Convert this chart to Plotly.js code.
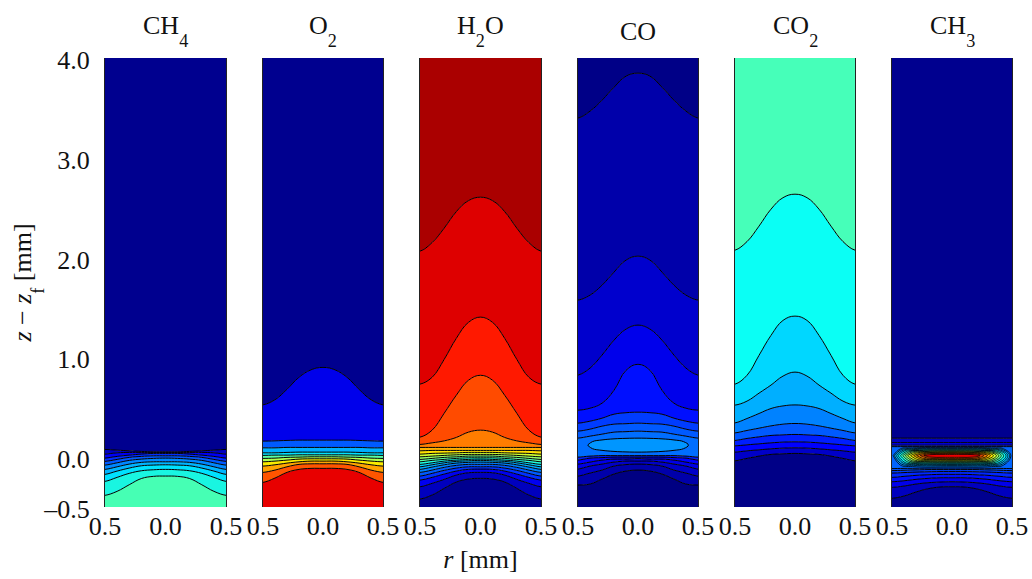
<!DOCTYPE html>
<html><head><meta charset="utf-8">
<script src="https://cdn.plot.ly/plotly-3.0.1.min.js"></script>
<style>html,body{margin:0;padding:0;background:#fff;overflow:hidden}#chart{width:1032px;height:579px}</style>
</head><body><div id="chart"></div>
<script>
// radial stations (mm) at which every contour height was read; mirrored about r = 0
const rHalf = [0, 0.1, 0.2, 0.3, 0.4, 0.5];
const speciesNames = ['CH<sub>4</sub>', 'O<sub>2</sub>', 'H<sub>2</sub>O', 'CO', 'CO<sub>2</sub>', 'CH<sub>3</sub>'];
const rTickVals = [-0.5, 0, 0.5];
const rTickText = ['0.5', '0.0', '0.5'];
const zTickVals = [-0.5, 0, 1, 2, 3, 4];
const zTickText = ['–0.5', '0.0', '1.0', '2.0', '3.0', '4.0'];

// contour heights z - zf (mm), lowest contour first
const ch4Curves = [
 [-.19,-.193,-.215,-.277,-.343,-.383],
 [-.123,-.127,-.137,-.163,-.203,-.243],
 [-.077,-.08,-.087,-.11,-.14,-.173],
 [-.047,-.047,-.053,-.07,-.097,-.123],
 [-.01,-.013,-.02,-.033,-.057,-.08],
 [.013,.013,.007,-.003,-.023,-.043],
 [.037,.037,.03,.02,.007,-.01],
 [.047,.047,.047,.047,.043,.03],
 [.053,.053,.057,.063,.07,.077]];
const ch4Colors = ['rgb(70,255,180)','rgb(25,245,225)','rgb(0,225,255)','rgb(0,180,255)','rgb(0,135,255)','rgb(0,90,255)','rgb(0,45,255)','rgb(0,0,245)','rgb(0,0,195)','rgb(0,0,143)'];

const o2Curves = [
 [-.113,-.113,-.123,-.153,-.21,-.253],
 [-.067,-.067,-.073,-.097,-.13,-.153],
 [-.04,-.04,-.047,-.06,-.077,-.09],
 [-.017,-.017,-.02,-.03,-.04,-.047],
 [.003,.003,0,-.003,-.01,-.013],
 [.023,.023,.023,.02,.02,.017],
 [.05,.05,.05,.047,.043,.043],
 [.097,.097,.097,.097,.093,.093],
 [.17,.17,.17,.167,.163,.16],
 [.899,.875,.80,.68,.575,.524]];
const o2Colors = ['rgb(232,0,0)','rgb(255,85,0)','rgb(255,165,0)','rgb(250,235,0)','rgb(175,255,80)','rgb(90,255,165)','rgb(0,225,255)','rgb(0,175,255)','rgb(0,90,255)','rgb(0,0,235)','rgb(0,0,143)'];

const h2oCurves = [
 [-.213,-.22,-.25,-.313,-.38,-.42],
 [-.153,-.157,-.18,-.223,-.263,-.297],
 [-.12,-.123,-.14,-.17,-.203,-.23],
 [-.097,-.097,-.11,-.133,-.163,-.19],
 [-.073,-.073,-.083,-.103,-.13,-.153],
 [-.05,-.053,-.06,-.077,-.10,-.123],
 [-.033,-.037,-.043,-.057,-.077,-.097],
 [-.02,-.023,-.03,-.04,-.057,-.073],
 [-.007,-.007,-.013,-.023,-.033,-.047],
 [.01,.01,.003,-.003,-.013,-.023],
 [.027,.027,.023,.017,.01,.003],
 [.047,.047,.043,.04,.037,.03],
 [.067,.067,.067,.067,.067,.063],
 [.097,.097,.097,.097,.097,.097],
 [.27,.25,.197,.163,.143,.127],
 [.82,.77,.62,.44,.27,.20],
 [1.403,1.35,1.19,.98,.80,.731],
 [2.605,2.57,2.46,2.295,2.15,2.064]];
const h2oColors = ['rgb(0,0,143)','rgb(0,0,190)','rgb(0,0,240)','rgb(0,50,255)','rgb(0,90,255)','rgb(0,130,255)','rgb(0,170,255)','rgb(0,210,255)','rgb(30,255,225)','rgb(90,255,165)','rgb(150,255,105)','rgb(210,255,45)','rgb(255,225,0)','rgb(255,175,0)','rgb(255,125,0)','rgb(255,75,0)','rgb(255,25,0)','rgb(222,0,0)','rgb(170,0,0)'];

const coCurves = [
 [-.13,-.14,-.17,-.22,-.27,-.28],
 [-.07,-.075,-.09,-.13,-.16,-.19],
 [-.04,-.04,-.05,-.07,-.09,-.12],
 [-.015,-.02,-.02,-.03,-.05,-.07],
 [0,0,0,-.005,-.01,-.03],
 [.015,.015,.015,.015,.01,0],
 [.26,.255,.25,.23,.21,.19],
 [.34,.335,.33,.31,.28,.26],
 [.45,.445,.43,.39,.36,.34],
 [.93,.87,.67,.54,.49,.47],
 [1.323,1.283,1.172,1.022,.892,.822],
 [2.014,1.974,1.854,1.723,1.623,1.573],
 [3.848,3.818,3.707,3.577,3.467,3.397]];
const coColors = ['rgb(0,0,130)','rgb(0,0,170)','rgb(0,0,200)','rgb(0,0,230)','rgb(0,0,255)','rgb(0,30,255)','rgb(0,110,255)','rgb(0,90,255)','rgb(0,60,255)','rgb(0,15,255)','rgb(0,0,235)','rgb(0,0,205)','rgb(0,0,170)','rgb(0,0,135)'];
// the one closed CO contour: half outline
const coOvalR = [0, .1, .2, .3, .38, .42];
const coOvalTop = [.19, .188, .183, .172, .155, .12];
const coOvalBot = [.05, .052, .057, .068, .085, .12];
const coOvalColor = 'rgb(0,150,255)';

const co2Curves = [
 [.037,.033,.027,.01,-.013,-.037],
 [.093,.09,.083,.073,.063,.05],
 [.153,.15,.143,.133,.123,.113],
 [.227,.223,.217,.203,.187,.167],
 [.337,.33,.313,.29,.267,.243],
 [.523,.513,.487,.437,.387,.343],
 [.852,.812,.722,.641,.561,.521],
 [1.413,1.37,1.22,1.02,.82,.731],
 [2.635,2.60,2.485,2.315,2.16,2.074]];
const co2Colors = ['rgb(0,0,135)','rgb(0,0,200)','rgb(0,0,255)','rgb(0,30,255)','rgb(0,90,255)','rgb(0,130,255)','rgb(0,175,255)','rgb(0,215,255)','rgb(10,255,245)','rgb(70,255,185)'];

const ch3Curves = [
 [-.297,-.30,-.317,-.35,-.39,-.413],
 [-.247,-.25,-.257,-.27,-.29,-.303],
 [-.207,-.207,-.213,-.223,-.237,-.247],
 [-.173,-.173,-.177,-.183,-.193,-.203],
 [-.145,-.145,-.147,-.15,-.155,-.16],
 [-.125,-.125,-.125,-.128,-.132,-.135],
 [-.11,-.11,-.11,-.112,-.113,-.115],
 [.105,.105,.105,.105,.105,.105],
 [.12,.12,.12,.12,.12,.12],
 [.145,.145,.145,.145,.145,.145],
 [.19,.19,.19,.19,.19,.19]];
const ch3Colors = ['rgb(0,0,143)','rgb(0,0,190)','rgb(0,0,235)','rgb(0,15,255)','rgb(0,40,255)','rgb(0,60,255)','rgb(0,80,255)','rgb(0,100,255)','rgb(0,40,255)','rgb(0,0,240)','rgb(0,0,190)','rgb(0,0,143)'];
// nested closed CH3 contours around the reaction ridge, outermost first
const ch3OvalR = [[0,.33,.43,.49],[0,.32,.42,.48],[0,.305,.405,.465],[0,.29,.39,.45],[0,.27,.37,.43],[0,.25,.35,.41],[0,.23,.33,.39],[0,.21,.31,.37],[0,.185,.285,.345],[0,.16,.26,.32],[0,.135,.235,.295],[0,.105,.205,.265],[0,.075,.175,.235]];
const ch3OvalTop = [[.095,.093,.083,.015],[.087,.085,.076,.015],[.079,.077,.07,.015],[.073,.071,.065,.015],[.068,.066,.06,.015],[.063,.061,.056,.015],[.058,.056,.052,.015],[.053,.051,.048,.015],[.049,.047,.044,.015],[.044,.042,.04,.015],[.039,.037,.036,.015],[.034,.033,.031,.015],[.027,.027,.025,.015]];
const ch3OvalBot = [[-.097,-.095,-.08,.015],[-.085,-.083,-.07,.015],[-.075,-.073,-.062,.015],[-.067,-.065,-.055,.015],[-.059,-.057,-.048,.015],[-.052,-.05,-.042,.015],[-.046,-.044,-.037,.015],[-.039,-.037,-.031,.015],[-.032,-.03,-.025,.015],[-.025,-.023,-.019,.015],[-.019,-.017,-.014,.015],[-.012,-.011,-.008,.015],[-.002,-.002,0,.015]];
const ch3OvalColors = ['rgb(0,140,255)','rgb(0,175,255)','rgb(0,210,255)','rgb(10,245,240)','rgb(60,255,195)','rgb(110,255,145)','rgb(165,255,90)','rgb(215,255,40)','rgb(255,225,0)','rgb(255,180,0)','rgb(255,130,0)','rgb(255,80,0)','rgb(235,0,0)'];

const panelCurves = [ch4Curves, o2Curves, h2oCurves, coCurves, co2Curves, ch3Curves];
const panelColors = [ch4Colors, o2Colors, h2oColors, coColors, co2Colors, ch3Colors];

// layout (pixels in the 1032x579 page)
const W = 1032, H = 579;
const panelPx = [[105,226],[263,383],[420,541],[578,698],[735,855],[892,1012]];
const plotTop = 58, plotBottom = 507;
const titleY = [27, 27, 27, 31, 27, 27];
const serif = '"Liberation Serif", serif';
const fontSize = 26;
const ink = '#111';
const lineStyle = {color: '#000', width: 1, shape: 'spline', smoothing: 1.2};
const ovalLine = {color: '#000', width: 0.8, shape: 'spline', smoothing: 1.2};
const noLine = {width: 0, shape: 'spline', color: 'rgba(0,0,0,0)'};

// a station just outside the panel keeps each curve level where it meets the wall (clipped by the axis)
const wallR = 0.56;
const rFull = [-wallR].concat(rHalf.slice(1).reverse().map(v => -v), rHalf, [wallR]);
const mirror = row => [row[row.length - 1]].concat(row.slice(1).reverse(), row, [row[row.length - 1]]);

function closedOval(rs, top, bot) {
  const n = rs.length - 1;
  const xs = [], ys = [];
  for (let i = n; i >= 0; i--) { xs.push(-rs[i]); ys.push(top[i]); }
  for (let i = 1; i <= n; i++) { xs.push(rs[i]); ys.push(top[i]); }
  for (let i = n - 1; i >= 0; i--) { xs.push(rs[i]); ys.push(bot[i]); }
  for (let i = 1; i <= n; i++) { xs.push(-rs[i]); ys.push(bot[i]); }
  return {xs, ys};
}

const traces = [];
const layout = {
  width: W, height: H, margin: {l: 0, r: 0, t: 0, b: 0},
  paper_bgcolor: '#fff', plot_bgcolor: '#fff', showlegend: false, hovermode: false,
  font: {family: serif, color: ink, size: fontSize}, annotations: []
};

panelPx.forEach((px, p) => {
  const sfx = p === 0 ? '' : String(p + 1);
  const xa = 'x' + sfx, ya = 'y' + sfx;
  const base = {x: rFull, mode: 'lines', xaxis: xa, yaxis: ya, hoverinfo: 'skip'};
  traces.push(Object.assign({}, base, {y: rFull.map(() => -0.5), line: noLine}));
  const curves = panelCurves[p], colors = panelColors[p];
  curves.forEach((c, k) => {
    traces.push(Object.assign({}, base, {y: mirror(c), line: lineStyle, fill: 'tonexty', fillcolor: colors[k]}));
  });
  traces.push(Object.assign({}, base, {y: rFull.map(() => 4), line: noLine, fill: 'tonexty', fillcolor: colors[curves.length]}));

  const xAxis = {
    domain: [px[0] / W, px[1] / W], range: [-0.5, 0.5], fixedrange: true,
    showgrid: false, zeroline: false, showline: false,
    tickmode: 'array', tickvals: rTickVals, ticktext: rTickText,
    ticks: '', tickangle: 0, ticklabelstandoff: 1,
    tickfont: {family: serif, size: fontSize, color: ink}, anchor: ya
  };
  if (p === 2) {
    xAxis.title = {text: '<i>r</i> [mm]', font: {family: serif, size: fontSize, color: ink}, standoff: 9};
  }
  const yAxis = {
    domain: [1 - plotBottom / H, 1 - plotTop / H], range: [-0.5, 4], fixedrange: true,
    showgrid: false, zeroline: false, showline: true, mirror: true, linecolor: '#222', linewidth: 1,
    tickmode: 'array', tickvals: zTickVals, ticktext: zTickText,
    ticks: p === 0 ? 'outside' : '', ticklen: 9, tickcolor: 'rgba(0,0,0,0)', ticklabelshift: 2,
    showticklabels: p === 0, tickfont: {family: serif, size: fontSize, color: ink}, anchor: xa
  };
  if (p === 0) {
    yAxis.title = {text: '<i>z</i> − <i>z</i><sub>f</sub> [mm]', font: {family: serif, size: fontSize, color: ink}, standoff: 4};
  }
  layout['xaxis' + sfx] = xAxis;
  layout['yaxis' + sfx] = yAxis;

  layout.annotations.push({
    xref: 'paper', yref: 'paper', x: (px[0] + px[1]) / 2 / W, y: 1 - titleY[p] / H,
    text: speciesNames[p], showarrow: false, xanchor: 'center', yanchor: 'middle',
    font: {family: serif, size: fontSize, color: ink}
  });
});

// closed contours drawn above the bands
function addOval(sfx, oval, color, line) {
  traces.push({x: oval.xs.concat(oval.xs[0]), y: oval.ys.concat(oval.ys[0]), mode: 'lines',
    xaxis: 'x' + sfx, yaxis: 'y' + sfx, hoverinfo: 'skip', fill: 'toself', fillcolor: color, line: line});
}
addOval('4', closedOval(coOvalR, coOvalTop, coOvalBot), coOvalColor, lineStyle);
ch3OvalR.forEach((rs, i) => addOval('6', closedOval(rs, ch3OvalTop[i], ch3OvalBot[i]), ch3OvalColors[i], ovalLine));

Plotly.newPlot('chart', traces, layout, {displayModeBar: false, staticPlot: true}).then(gd => {
  // subscripts in the reference sit lower than Plotly's default
  gd.querySelectorAll('.annotation-text tspan, .ytitle tspan').forEach(t => {
    const dy = t.getAttribute('dy');
    if (dy === '0.3em') t.setAttribute('dy', '0.72em');
    else if (dy === '-0.21em') t.setAttribute('dy', '-0.5em');
  });
});
</script>
</body></html>
